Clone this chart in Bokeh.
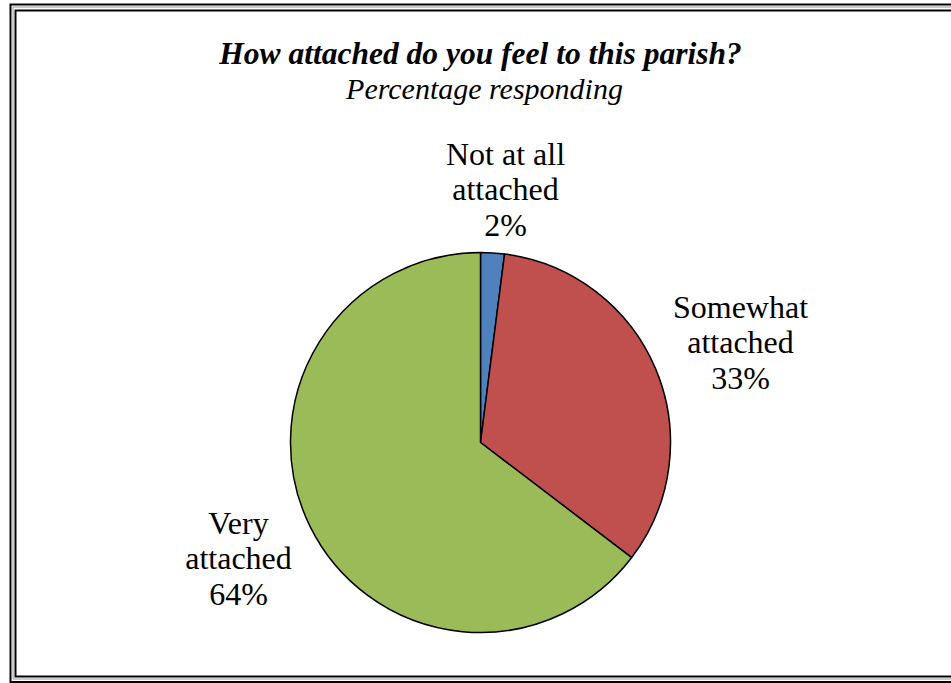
import math
from bokeh.plotting import figure
from bokeh.models import Range1d, ColumnDataSource
from bokeh.core.properties import value
from bokeh.embed import file_html
from bokeh.resources import INLINE

# ---- data ----
categories = ["Not at all attached", "Somewhat attached", "Very attached"]
percentages = [2, 33, 64]
colors = ["#4F81BD", "#C0504D", "#9BBB59"]
title_text = "How attached do you feel to this parish?"
subtitle_text = "Percentage responding"

# ---- layout constants (pixels) ----
W, H = 951, 683
CX, CY = 480, 442          # pie centre (screen px, y down)
R = 190
FONT = "'Liberation Serif', 'Times New Roman', serif"
# label block centres relative to pie centre (dx right, dy up)
label_offsets = [(25, 253), (260, 100), (-242, -116)]

p = figure(width=W, height=H, output_backend="svg", toolbar_location=None,
           x_range=Range1d(0, W), y_range=Range1d(0, H), min_border=0)
p.axis.visible = False
p.grid.visible = False
p.outline_line_color = None
p.background_fill_color = "white"
p.border_fill_color = "white"

def sy(y):
    return H - y

# ---- frame (double line) ----
ext = 20
p.multi_line(xs=[[W + ext, 10, 10, W + ext]], ys=[[sy(4), sy(4), sy(681.5), sy(681.5)]],
             line_color="black", line_width=2, line_join="miter")
p.multi_line(xs=[[W + ext, 12.5, 12.5, W + ext]], ys=[[sy(6.5), sy(6.5), sy(678.5), sy(678.5)]],
             line_color="#9a9a9a", line_width=1, line_join="miter")
p.multi_line(xs=[[W + ext, 15, 15, W + ext]], ys=[[sy(10), sy(10), sy(676), sy(676)]],
             line_color="black", line_width=2, line_join="miter")

# ---- pie ----
total = sum(percentages)
starts, ends = [], []
cum = 0.0
for v in percentages:
    a0 = math.pi / 2 - 2 * math.pi * cum / total
    cum += v
    a1 = math.pi / 2 - 2 * math.pi * cum / total
    starts.append(a0)
    ends.append(a1)
src = ColumnDataSource(dict(start=starts, end=ends, color=colors,
                            x=[CX] * 3, y=[sy(CY)] * 3))
p.wedge(x="x", y="y", radius=R, start_angle="start", end_angle="end",
        direction="clock", fill_color="color", line_color="black",
        line_width=1.5, source=src)

# ---- data labels ----
def short_label(name):
    words = name.split(" ")
    if len(words) == 4:
        return " ".join(words[:3]) + "\n" + words[3]
    return words[0] + "\n" + " ".join(words[1:])

lab_text = [short_label(c) + "\n" + f"{v}%" for c, v in zip(categories, percentages)]
lab_x = [CX + dx for dx, dy in label_offsets]
lab_y = [sy(CY) + dy for dx, dy in label_offsets]
p.text(x=lab_x, y=lab_y, text=lab_text, text_font=value(FONT),
       text_font_size="32px", text_align="center", text_baseline="middle",
       text_line_height=0.975, text_color="black")

# ---- titles ----
p.text(x=[CX], y=[sy(52.5)], text=[title_text], text_font=value(FONT),
       text_font_size="31.5px", text_font_style="bold italic",
       text_align="center", text_baseline="alphabetic", text_color="black")
p.text(x=[CX + 4], y=[sy(88)], text=[subtitle_text], text_font=value(FONT),
       text_font_size="30px", text_font_style="italic",
       text_align="center", text_baseline="alphabetic", text_color="black")

open("out.html", "w").write(file_html(p, INLINE))
